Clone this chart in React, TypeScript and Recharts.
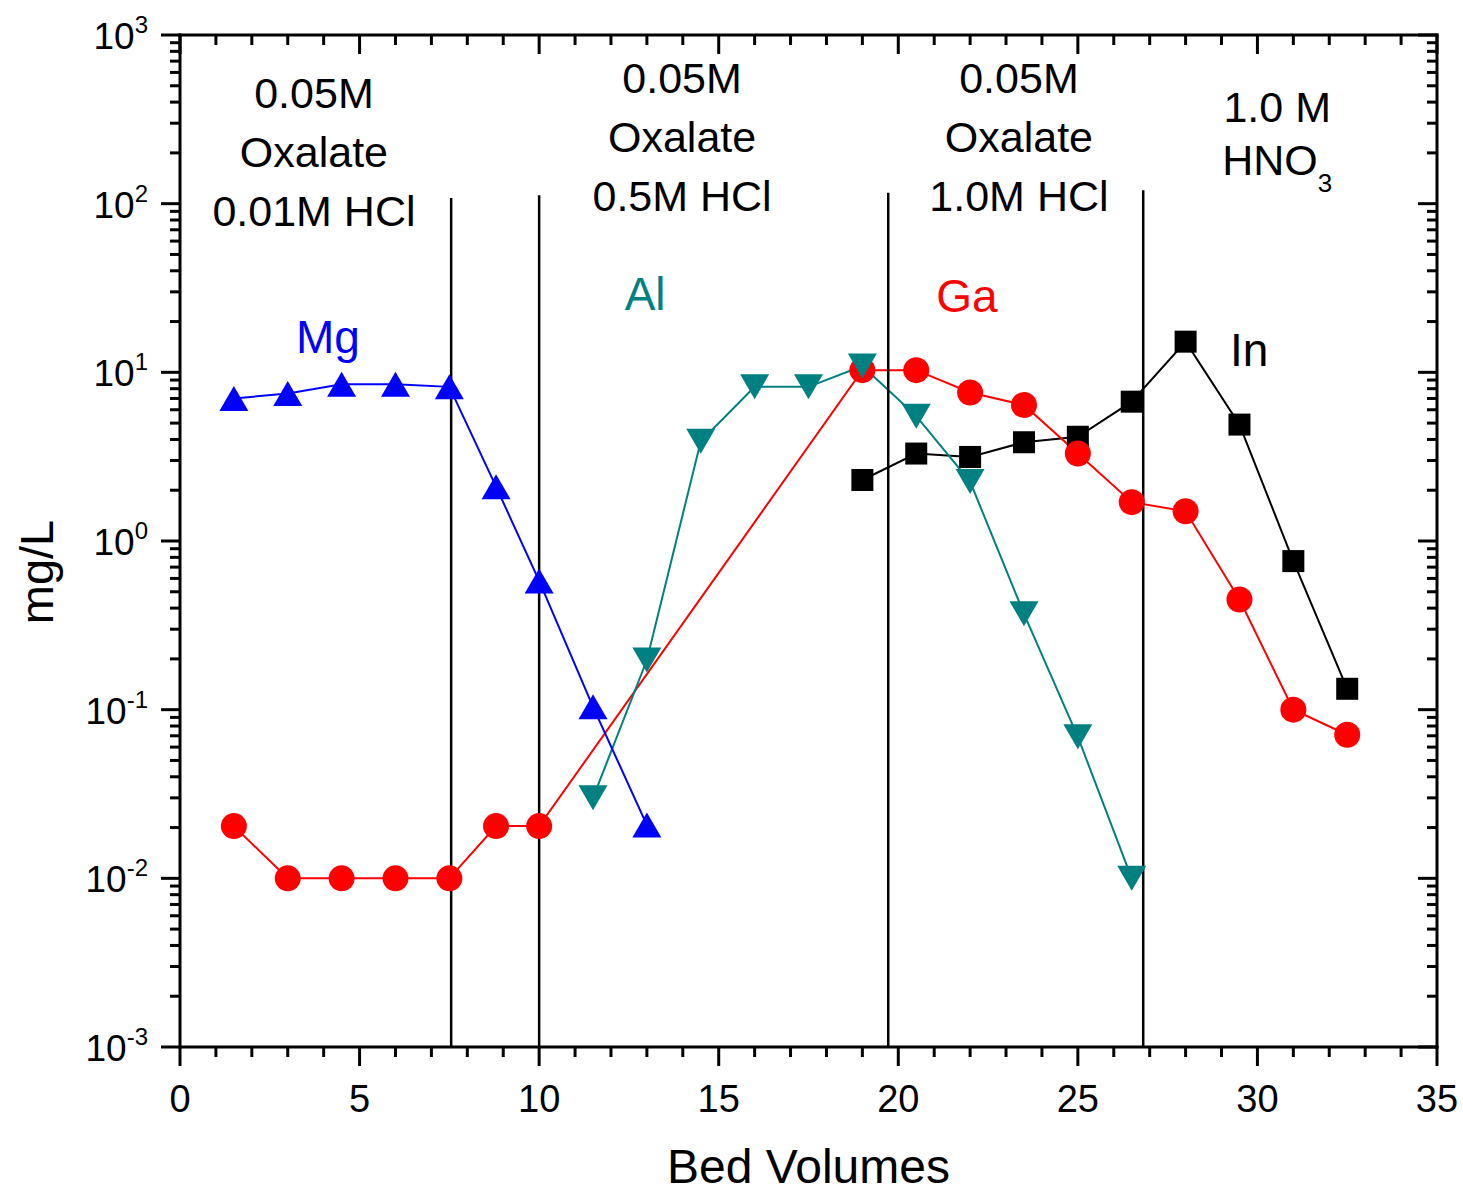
import React from 'react';
import { ComposedChart, Line, XAxis, YAxis, ReferenceLine, ReferenceDot, Label } from 'recharts';

// bed volumes (x) and concentration in mg/L (y) per element
const mgX = [1.5, 3, 4.5, 6, 7.5, 8.8, 10, 11.5, 13];
const mgY = [7.0, 7.5, 8.5, 8.5, 8.2, 2.1, 0.58, 0.104, 0.0207];

const gaX = [1.5, 3, 4.5, 6, 7.5, 8.8, 10, 19, 20.5, 22, 23.5, 25, 26.5, 28, 29.5, 31, 32.5];
const gaY = [0.0204, 0.01, 0.01, 0.01, 0.01, 0.0204, 0.0204, 10.3, 10.3, 7.6, 6.4, 3.3, 1.7, 1.5, 0.45, 0.1, 0.071];

const alX = [11.5, 13, 14.5, 16, 17.5, 19, 20.5, 22, 23.5, 25, 26.5];
const alY = [0.03, 0.197, 3.9, 8.2, 8.2, 10.9, 5.5, 2.25, 0.37, 0.069, 0.01];

const inX = [19, 20.5, 22, 23.5, 25, 26.5, 28, 29.5, 31, 32.5];
const inY = [2.3, 3.3, 3.15, 3.85, 4.15, 6.7, 15.2, 4.9, 0.76, 0.133];

// eluent change boundaries (bed volumes) and the top of each divider line
const dividerX = [7.55, 10.0, 19.72, 26.82];
const dividerTop = [108, 112, 116, 120];

// eluent annotations: centre x, first baseline y (data units), lines
const eluentX = [3.73, 13.98, 23.36];
const eluentY = [369, 453, 453];
const eluentLines = [
  ['0.05M', 'Oxalate', '0.01M HCl'],
  ['0.05M', 'Oxalate', '0.5M HCl'],
  ['0.05M', 'Oxalate', '1.0M HCl'],
];
const nitricX = 30.55;
const nitricY = 305;

// element labels
const elementNames = ['Mg', 'Al', 'Ga', 'In'];
const elementX = [4.12, 12.95, 21.91, 29.77];
const elementY = [13.0, 23.4, 22.8, 10.9];
const elementColors = ['#0000ff', '#008080', '#ff0000', '#000000'];

// axis ticks
const xTicks = Array.from({ length: 36 }, (_, i) => i);
const yMajorTicks = [0.001, 0.01, 0.1, 1, 10, 100, 1000];
const yExponents = ['-3', '-2', '-1', '0', '1', '2', '3'];
const yMinorSteps = [2, 3, 4, 5, 6, 7, 8, 9];
const yTicks = [
  ...yMajorTicks,
  ...yMajorTicks.slice(0, -1).flatMap((m) => yMinorSteps.map((s) => m * s)),
].sort((a, b) => a - b);

const FONT = '"Liberation Sans", Arial, sans-serif';
const MAJOR = 19;
const MINOR = 10;

const toPoints = (xs: number[], ys: number[]) => xs.map((x, i) => ({ x, y: ys[i] }));

const majorIndex = (v: number) => yMajorTicks.findIndex((m) => Math.abs(v / m - 1) < 1e-6);

const BottomTick = (props: any) => {
  const { x, y, payload } = props;
  const major = payload.value % 5 === 0;
  return (
    <g>
      <line x1={x} x2={x} y1={y} y2={y + (major ? MAJOR : MINOR)} stroke="#000" strokeWidth={3} />
      {major && (
        <text x={x} y={y + 65} textAnchor="middle" fontSize={38} fontFamily={FONT} fill="#000">
          {payload.value}
        </text>
      )}
    </g>
  );
};

const TopTick = (props: any) => {
  const { x, y, payload } = props;
  const major = payload.value % 5 === 0;
  return <line x1={x} x2={x} y1={y} y2={y + (major ? MAJOR : MINOR)} stroke="#000" strokeWidth={3} />;
};

const LeftTick = (props: any) => {
  const { x, y, payload } = props;
  const idx = majorIndex(payload.value);
  const major = idx >= 0;
  return (
    <g>
      <line x1={x - (major ? MAJOR : MINOR)} x2={x} y1={y} y2={y} stroke="#000" strokeWidth={3} />
      {major && (
        <text x={x - 32} y={y + 14} textAnchor="end" fontSize={37} fontFamily={FONT} fill="#000">
          <tspan>10</tspan>
          <tspan dy={-16} fontSize={24}>
            {yExponents[idx]}
          </tspan>
        </text>
      )}
    </g>
  );
};

const RightTick = (props: any) => {
  const { x, y, payload } = props;
  const major = majorIndex(payload.value) >= 0;
  return <line x1={x - (major ? MAJOR : MINOR)} x2={x} y1={y} y2={y} stroke="#000" strokeWidth={3} />;
};

const triangleUp = (color: string) => (p: any) => (
  <polygon
    key={`u${p.index}`}
    points={`${p.cx},${p.cy - 12.5} ${p.cx - 14.5},${p.cy + 12.5} ${p.cx + 14.5},${p.cy + 12.5}`}
    fill={color}
  />
);
const triangleDown = (color: string) => (p: any) => (
  <polygon
    key={`d${p.index}`}
    points={`${p.cx},${p.cy + 12.5} ${p.cx - 14.5},${p.cy - 12.5} ${p.cx + 14.5},${p.cy - 12.5}`}
    fill={color}
  />
);
const circle = (color: string) => (p: any) => <circle key={`c${p.index}`} cx={p.cx} cy={p.cy} r={13} fill={color} />;
const square = (color: string) => (p: any) => (
  <rect key={`s${p.index}`} x={p.cx - 11} y={p.cy - 11} width={22} height={22} fill={color} />
);

const axisLine = { stroke: '#000', strokeWidth: 3, strokeLinecap: 'square' as const };

export default function App() {
  return (
    <div style={{ position: 'absolute', left: 0, top: 0, background: '#fff' }}>
      <ComposedChart width={1463} height={1196} margin={{ top: 5, right: 0, bottom: 0, left: 0 }}>
        <XAxis
          xAxisId="bottom"
          type="number"
          dataKey="x"
          domain={[0, 35]}
          ticks={xTicks}
          interval={0}
          allowDataOverflow
          height={149}
          tickSize={0}
          tickMargin={0}
          tickLine={false}
          axisLine={axisLine}
          tick={<BottomTick />}
        >
          <Label
            content={(p: any) => (
              <text
                x={p.viewBox.x + p.viewBox.width / 2}
                y={p.viewBox.y + 136}
                textAnchor="middle"
                fontSize={48}
                fontFamily={FONT}
                fill="#000"
              >
                Bed Volumes
              </text>
            )}
          />
        </XAxis>
        <XAxis
          xAxisId="top"
          orientation="top"
          type="number"
          dataKey="x"
          domain={[0, 35]}
          ticks={xTicks}
          interval={0}
          allowDataOverflow
          height={30}
          tickSize={0}
          tickMargin={0}
          tickLine={false}
          axisLine={axisLine}
          tick={<TopTick />}
        />
        <YAxis
          yAxisId="left"
          type="number"
          dataKey="y"
          scale="log"
          domain={[0.001, 1000]}
          ticks={yTicks}
          interval={0}
          allowDataOverflow
          width={180}
          tickSize={0}
          tickMargin={0}
          tickLine={false}
          axisLine={axisLine}
          tick={<LeftTick />}
        >
          <Label
            content={(p: any) => {
              const cx = p.viewBox.x + 36;
              const cy = p.viewBox.y + p.viewBox.height / 2 + 31;
              return (
                <text
                  x={cx}
                  y={cy}
                  transform={`rotate(-90 ${cx} ${cy})`}
                  textAnchor="middle"
                  dominantBaseline="central"
                  fontSize={47}
                  fontFamily={FONT}
                  fill="#000"
                >
                  mg/L
                </text>
              );
            }}
          />
        </YAxis>
        <YAxis
          yAxisId="right"
          orientation="right"
          type="number"
          scale="log"
          domain={[0.001, 1000]}
          ticks={yTicks}
          interval={0}
          allowDataOverflow
          width={26}
          tickSize={0}
          tickMargin={0}
          tickLine={false}
          axisLine={axisLine}
          tick={<RightTick />}
        />

        <Line
          xAxisId="bottom"
          yAxisId="left"
          data={toPoints(inX, inY)}
          dataKey="y"
          type="linear"
          stroke="#000"
          strokeWidth={2}
          dot={square('#000')}
          activeDot={false}
          isAnimationActive={false}
        />
        <Line
          xAxisId="bottom"
          yAxisId="left"
          data={toPoints(gaX, gaY)}
          dataKey="y"
          type="linear"
          stroke="#ff0000"
          strokeWidth={2}
          dot={circle('#ff0000')}
          activeDot={false}
          isAnimationActive={false}
        />
        <Line
          xAxisId="bottom"
          yAxisId="left"
          data={toPoints(alX, alY)}
          dataKey="y"
          type="linear"
          stroke="#008080"
          strokeWidth={2}
          dot={triangleDown('#008080')}
          activeDot={false}
          isAnimationActive={false}
        />
        <Line
          xAxisId="bottom"
          yAxisId="left"
          data={toPoints(mgX, mgY)}
          dataKey="y"
          type="linear"
          stroke="#0000ff"
          strokeWidth={2}
          dot={triangleUp('#0000ff')}
          activeDot={false}
          isAnimationActive={false}
        />

        {dividerX.map((x, i) => (
          <ReferenceLine
            key={`div${i}`}
            xAxisId="bottom"
            yAxisId="left"
            segment={[
              { x, y: dividerTop[i] },
              { x, y: 0.001 },
            ]}
            stroke="#000"
            strokeWidth={2.5}
          />
        ))}

        {eluentX.map((x, i) => (
          <ReferenceDot
            key={`el${i}`}
            xAxisId="bottom"
            yAxisId="left"
            x={x}
            y={eluentY[i]}
            r={0}
            shape={(p: any) => (
              <text x={p.cx} y={p.cy} textAnchor="middle" fontSize={43} fontFamily={FONT} fill="#000">
                {eluentLines[i].map((line, j) => (
                  <tspan key={j} x={p.cx} dy={j === 0 ? 0 : 59}>
                    {line}
                  </tspan>
                ))}
              </text>
            )}
          />
        ))}
        <ReferenceDot
          xAxisId="bottom"
          yAxisId="left"
          x={nitricX}
          y={nitricY}
          r={0}
          shape={(p: any) => (
            <g>
              <text x={p.cx} y={p.cy} textAnchor="middle" fontSize={43} fontFamily={FONT} fill="#000">
                1.0 M
              </text>
              <text x={p.cx} y={p.cy + 53} textAnchor="middle" fontSize={43} fontFamily={FONT} fill="#000">
                <tspan>HNO</tspan>
                <tspan dy={17} fontSize={26}>
                  3
                </tspan>
              </text>
            </g>
          )}
        />
        {elementNames.map((name, i) => (
          <ReferenceDot
            key={name}
            xAxisId="bottom"
            yAxisId="left"
            x={elementX[i]}
            y={elementY[i]}
            r={0}
            shape={(p: any) => (
              <text x={p.cx} y={p.cy} textAnchor="middle" fontSize={46} fontFamily={FONT} fill={elementColors[i]}>
                {name}
              </text>
            )}
          />
        ))}
      </ComposedChart>
    </div>
  );
}
